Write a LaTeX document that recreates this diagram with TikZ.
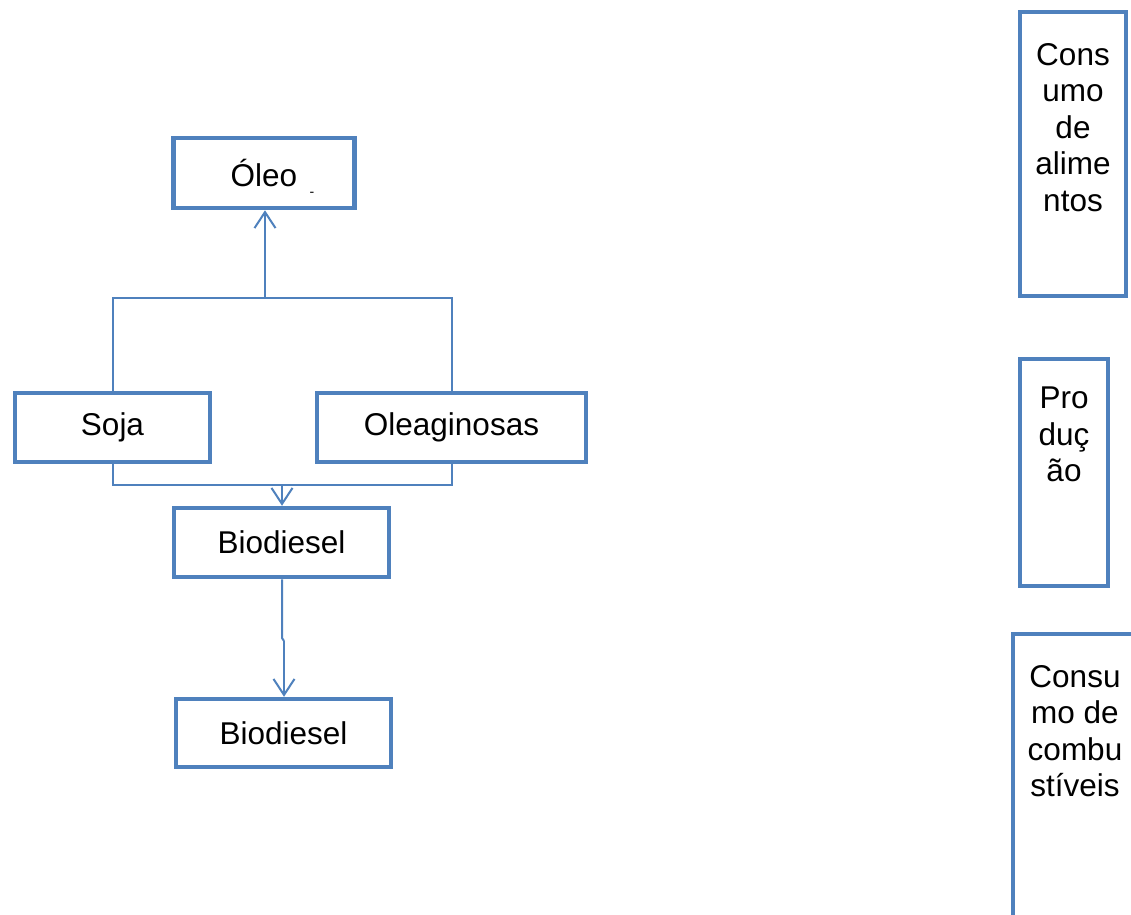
\documentclass[tikz,border=0pt]{standalone}
\usepackage{fontspec}
\setmainfont{Liberation Sans}
\usetikzlibrary{arrows.meta}
\definecolor{officeblue}{HTML}{4F81BD}
\tikzset{
  box/.style={draw=officeblue, line width=4.5pt, fill=white, rectangle, inner sep=0pt,
    font=\fontsize{31.5}{36.5}\selectfont, text=black},
  boxtext/.style={inner sep=0pt, align=center, anchor=north,
    font=\fontsize{31.5}{36.5}\selectfont, text=black},
  conn/.style={draw=officeblue, line width=2pt},
  arr/.style={conn, -{Straight Barb[length=16pt, width=21pt, line width=2pt]}},
}
\begin{document}
\begin{tikzpicture}[x=1pt, y=-1pt]
\clip (0,0) rectangle (1131,914);
\fill[white] (0,0) rectangle (1131,914);

% left flow boxes
\node[box, minimum width=181pt, minimum height=70pt] (oleo) at (264,173) {Óleo};
\node[inner sep=0pt, font=\fontsize{14}{14}\selectfont] (mark) at (312,194) {-};
\node[box, minimum width=195pt, minimum height=69pt] (soja) at (112.5,427.5) {Soja};
\node[box, minimum width=269pt, minimum height=69pt] (olea) at (451.5,427.5) {Oleaginosas};
\node[box, minimum width=215pt, minimum height=69pt] (bio1) at (281.5,542.5) {Biodiesel};
\node[box, minimum width=215pt, minimum height=68pt] (bio2) at (283.5,733) {Biodiesel};

% junctions
\coordinate (jt) at (265,298);
\coordinate (jb) at (282,485);
\coordinate (jog1) at (282,638);
\coordinate (jog2) at (284,641);

% connectors
\draw[conn] (soja.north) |- (jt) -| (olea.north);
\draw[arr] (jt) -- (jt |- oleo.south);
\draw[conn] (soja.south) |- (jb) -| (olea.south);
\draw[arr] (jb) -- (jb |- bio1.north);
\draw[conn] (bio1.south -| jog1) -- (jog1) -- (jog2);
\draw[arr] (jog2) -- (jog2 |- bio2.north);

% right column boxes
\node[box, minimum width=106pt, minimum height=284pt] (alim) at (1073,154) {};
\node[boxtext] (alimt) at (1073,43) {Cons\\umo\\de\\alime\\ntos};
\node[box, minimum width=88pt, minimum height=227pt] (prod) at (1064,472.5) {};
\node[boxtext] (prodt) at (1064,387) {Pro\\duç\\ão};
\node[box, minimum width=128pt, minimum height=320pt] (comb) at (1077,794) {};
\node[boxtext] (combt) at (1075,665) {Consu\\mo de\\combu\\stíveis};
\end{tikzpicture}
\end{document}
